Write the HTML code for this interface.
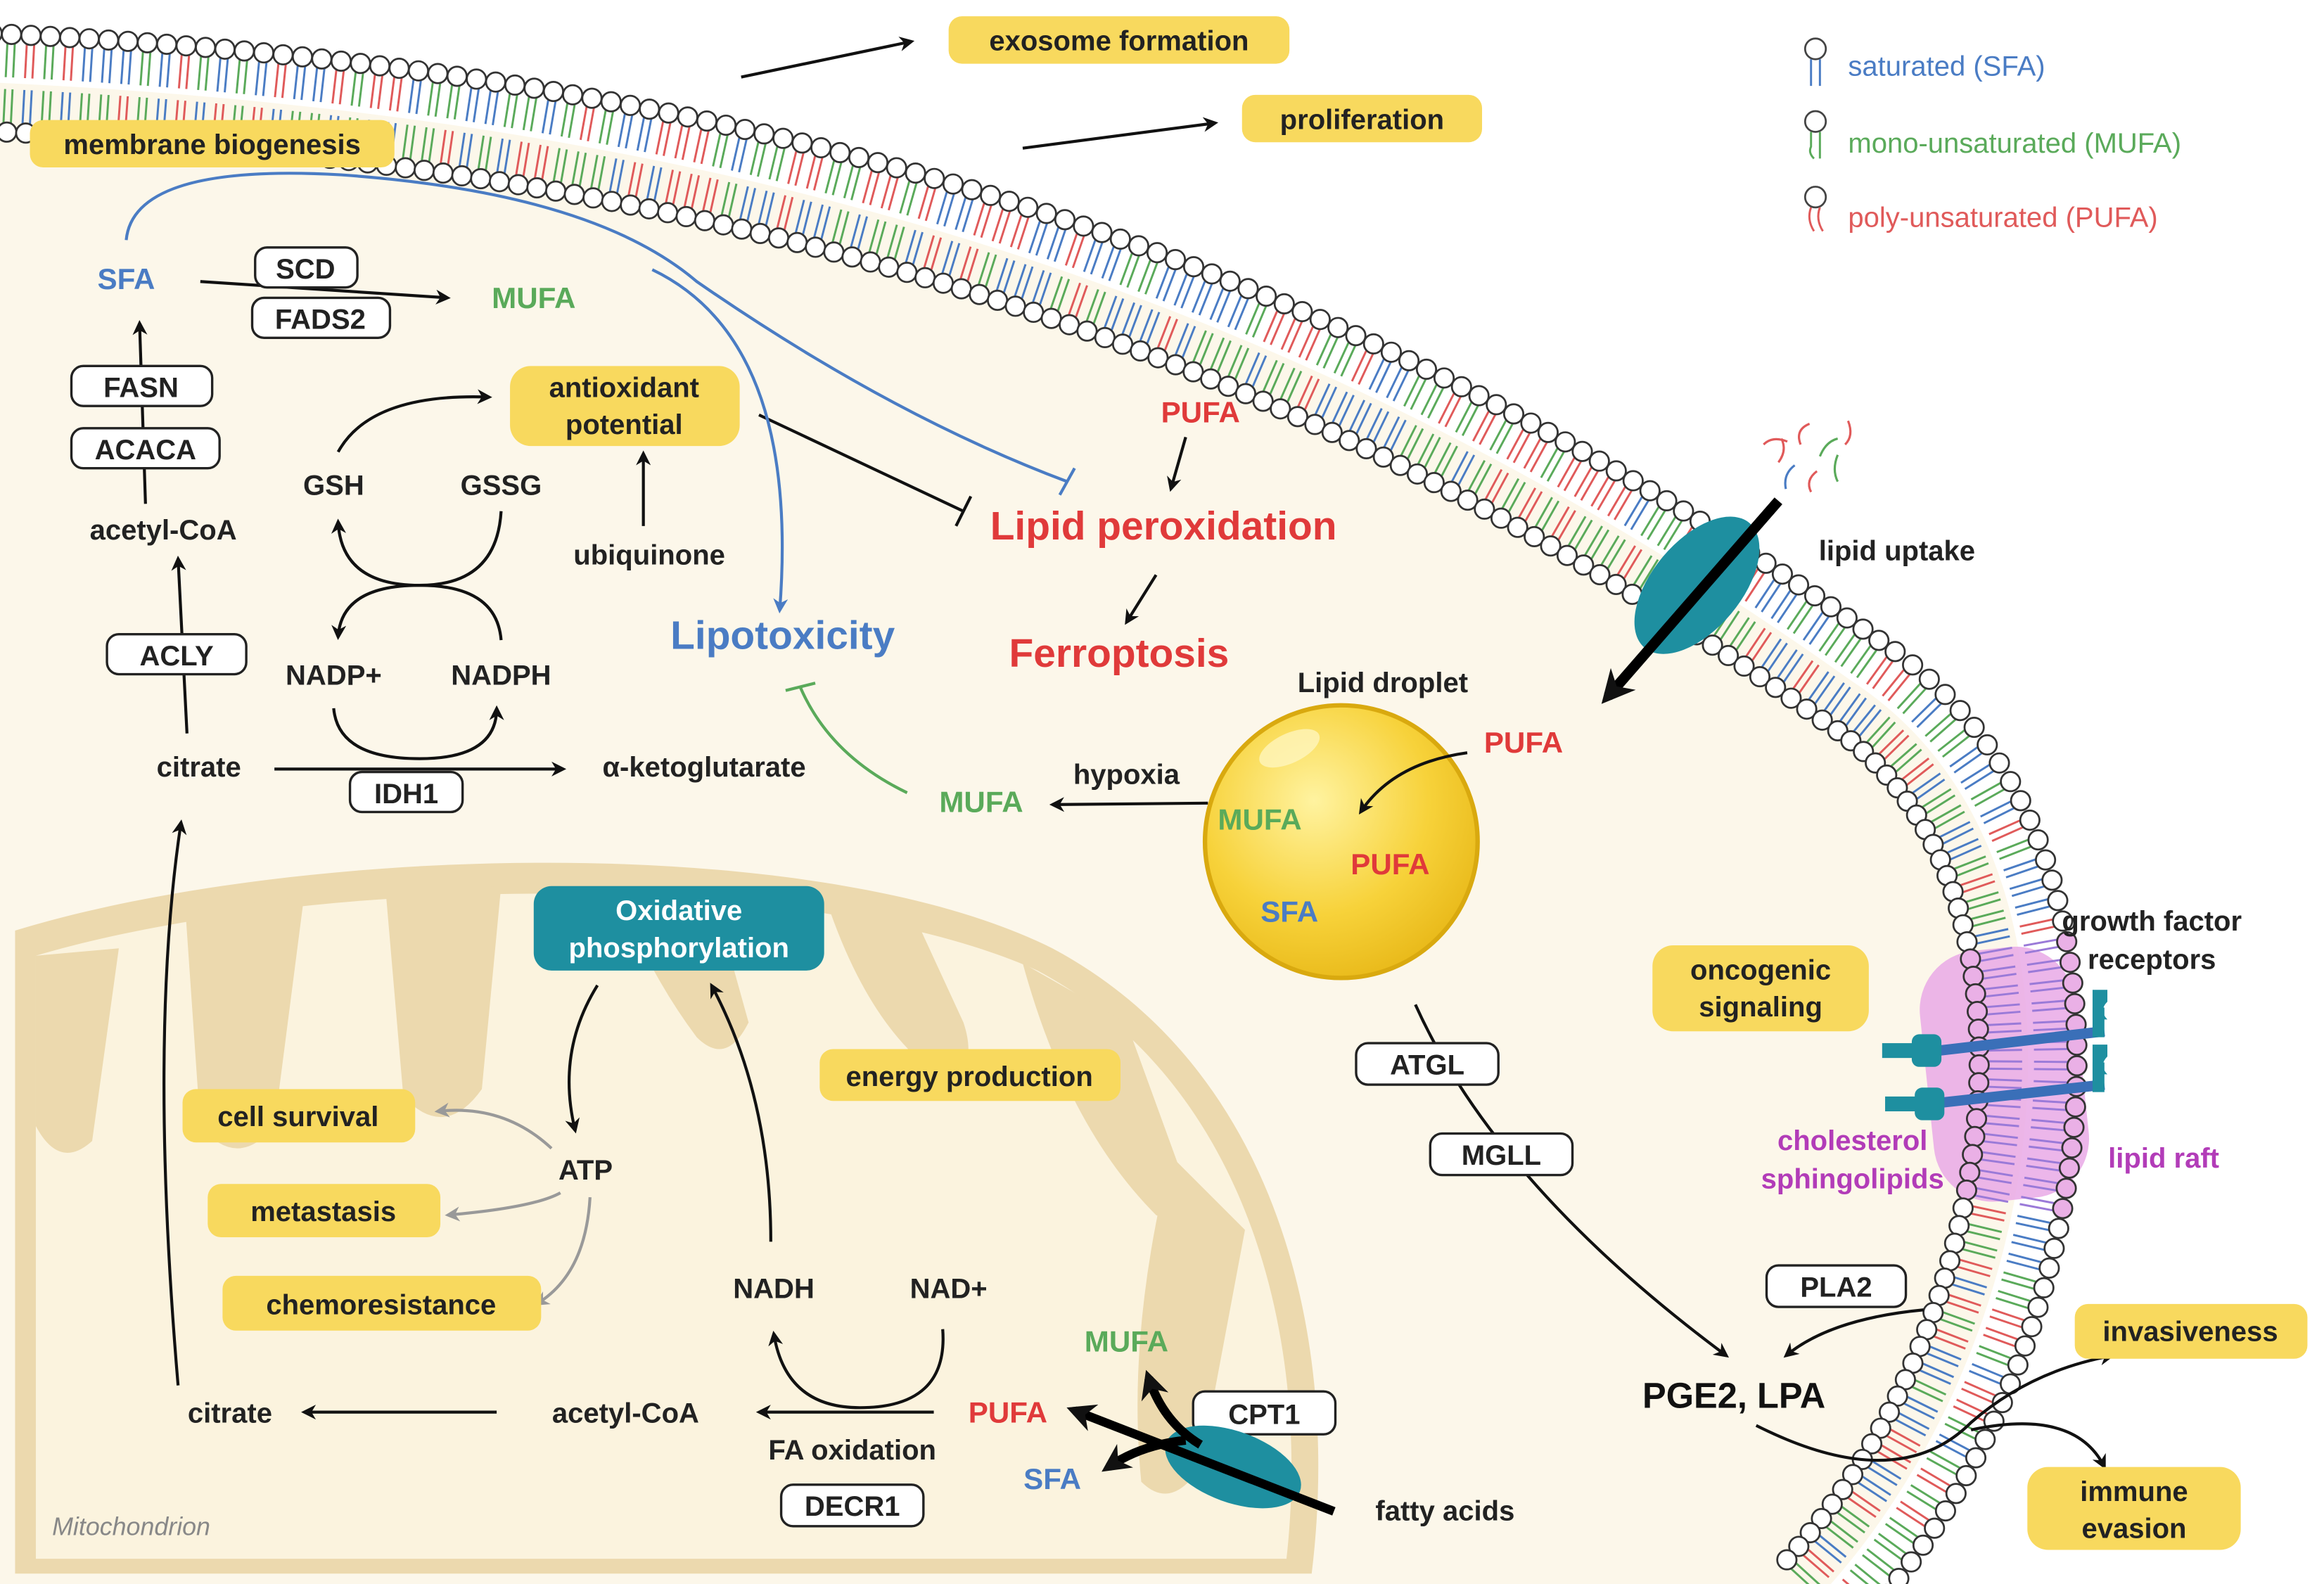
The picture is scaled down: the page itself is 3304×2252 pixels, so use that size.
<!DOCTYPE html>
<html><head><meta charset="utf-8"><style>
html,body{margin:0;padding:0;background:#fff;}
svg{display:block;}
text{font-family:"Liberation Sans",Arial,sans-serif;font-weight:bold;}
</style></head><body>
<svg id="s" width="3304" height="2252" viewBox="0 0 1568 1069" xmlns="http://www.w3.org/2000/svg">
<defs>
<marker id="a" viewBox="0 0 10 10" refX="8" refY="5" markerWidth="5" markerHeight="5" orient="auto-start-reverse"><path d="M0,0 L10,5 L0,10 L3,5 Z" fill="#111"/></marker>
<marker id="ab" viewBox="0 0 10 10" refX="8" refY="5" markerWidth="5" markerHeight="5" orient="auto"><path d="M0,0 L10,5 L0,10 L3,5 Z" fill="#4a7cc4"/></marker>
<marker id="ag" viewBox="0 0 10 10" refX="8" refY="5" markerWidth="5" markerHeight="5" orient="auto"><path d="M0,0 L10,5 L0,10 L3,5 Z" fill="#999"/></marker>
<marker id="at" viewBox="0 0 10 10" refX="7" refY="5" markerWidth="3.2" markerHeight="3.2" orient="auto"><path d="M0,0 L10,5 L0,10 L3,5 Z" fill="#111"/></marker>
<radialGradient id="ld" cx="0.4" cy="0.35" r="0.7"><stop offset="0" stop-color="#fff3a0"/><stop offset="0.6" stop-color="#f7d23a"/><stop offset="1" stop-color="#e8b818"/></radialGradient>
</defs>
<!-- cell interior -->
<path d="M-20,55 C450,75 850,175 1250,460 C1430,577 1390,900 1230,1075 L-20,1075 Z" fill="#fcf7ea"/>
<!-- mitochondrion -->
<path d="M10,628 C200,570 550,560 710,640 C860,720 905,900 885,1062 L10,1062 Z" fill="#ecd9ae"/>
<path d="M24,645 C210,590 545,585 700,655 C840,730 885,900 868,1052 L24,1052 Z" fill="#fbf3de"/>
<g fill="#ecd9ae">
<path d="M24,645 L24,760 Q40,790 62,770 L80,640 Z"/>
<path d="M125,615 L135,760 Q160,790 185,760 L205,605 Z"/>
<path d="M260,600 L272,740 Q300,770 325,735 L338,598 Z"/>
<path d="M420,610 Q440,660 470,700 Q490,720 505,690 L480,600 Z"/>
<path d="M560,615 Q590,700 640,730 Q660,720 650,690 L620,625 Z"/>
<path d="M690,650 Q720,760 780,820 Q800,830 800,800 L760,690 Z"/>
<path d="M790,780 Q760,900 770,1000 Q790,1020 810,990 L840,830 Z"/>
</g>
<text x="35" y="1036" font-size="17" fill="#888" font-style="italic" style="font-weight:normal">Mitochondrion</text>
<!-- membrane -->
<path id="mem" d="M-20,55 C450,75 850,175 1250,460 C1430,577 1390,900 1230,1075" fill="none" stroke="none"/>
<rect x="1300" y="640" width="105" height="170" rx="40" fill="#e9a9e6" opacity="0.85" transform="rotate(-6 1352 725)"/>
<g id="memg"></g>
<!-- receptors -->
<g stroke="#3a6fb8" stroke-width="7">
<line x1="1300" y1="710" x2="1420" y2="696"/><line x1="1302" y1="745" x2="1420" y2="732"/>
</g>
<g fill="#1e8fa0">
<rect x="1270" y="704" width="30" height="10"/><rect x="1290" y="698" width="20" height="22" rx="5"/>
<rect x="1272" y="740" width="30" height="10"/><rect x="1292" y="734" width="20" height="22" rx="5"/>
<path d="M1412,668 h10 v8 q-6,6 0,12 h-10 z" /><path d="M1412,705 h10 v8 q-6,6 0,12 h-10 z"/>
<path d="M1412,680 h8 v20 h-8z"/><path d="M1412,717 h8 v20 h-8z"/>
</g>
<!-- lipid uptake channel -->
<ellipse cx="1145" cy="395" rx="30" ry="55" fill="#1e8fa0" transform="rotate(40 1145 395)"/>
<line x1="1200" y1="338" x2="1085" y2="470" stroke="#000" stroke-width="7" marker-end="url(#at)"/>
<g fill="none" stroke-width="1.5">
<path d="M1200,312 q6,-8 2,-16" stroke="#e05a5a"/><path d="M1215,300 q-4,-10 6,-14" stroke="#e05a5a"/>
<path d="M1228,308 q4,-10 12,-12" stroke="#5aaa5a"/><path d="M1205,330 q-2,-10 6,-16" stroke="#4a7cc4"/>
<path d="M1222,332 q-4,-8 4,-14" stroke="#e05a5a"/><path d="M1240,325 q-4,-8 0,-18" stroke="#5aaa5a"/>
<path d="M1245,300 q6,-6 2,-16" stroke="#e05a5a"/><path d="M1190,300 q6,-6 16,-2" stroke="#e05a5a"/>
</g>
<!-- legend -->
<g stroke="#444" stroke-width="1.3" fill="#fff">
<circle cx="1225" cy="33" r="7"/><circle cx="1225" cy="82" r="7"/><circle cx="1225" cy="133" r="7"/></g>
<g fill="none" stroke-width="1.4">
<path d="M1222,40 v18 M1228,40 v18" stroke="#4a7cc4"/>
<path d="M1222,89 v10 q-2,4 2,8 M1228,89 v18" stroke="#5aaa5a"/>
<path d="M1222,140 q-3,8 2,16 M1228,140 q-3,8 2,16" stroke="#e05a5a"/>
</g>
<text x="1247" y="51" font-size="19" fill="#4a7cc4" style="font-weight:normal">saturated (SFA)</text>
<text x="1247" y="103" font-size="19" fill="#5aaa5a" style="font-weight:normal">mono-unsaturated (MUFA)</text>
<text x="1247" y="153" font-size="19" fill="#e05a5a" style="font-weight:normal">poly-unsaturated (PUFA)</text>
<!-- arrows -->
<g fill="none" stroke="#111" stroke-width="2" marker-end="url(#a)">
<line x1="500" y1="52" x2="615" y2="28"/>
<line x1="690" y1="100" x2="820" y2="83"/>
<line x1="135" y1="190" x2="302" y2="201"/>
<line x1="98" y1="340" x2="94" y2="218"/>
<line x1="126" y1="495" x2="120" y2="377"/>
<line x1="185" y1="519" x2="380" y2="519"/>
<path d="M228,305 Q250,265 330,268"/>
<line x1="434" y1="355" x2="434" y2="306"/>
<path d="M338,345 Q335,395 283,395 Q230,395 228,352"/>
<path d="M338,432 Q335,395 283,395 Q230,395 228,430"/>
<path d="M225,478 Q228,512 283,512 Q335,512 335,478"/>
<line x1="800" y1="295" x2="790" y2="330"/>
<line x1="780" y1="388" x2="760" y2="420"/>
<line x1="815" y1="542" x2="710" y2="543"/>
<path d="M955,678 Q1010,800 1165,915"/>
<path d="M1298,884 Q1235,890 1205,915"/>
<path d="M1185,962 Q1280,1010 1330,960 Q1370,925 1425,915"/>
<path d="M1330,965 Q1400,950 1420,990"/>
<path d="M403,665 Q375,710 388,763"/>
<path d="M520,838 Q520,740 480,665"/>
<path d="M636,897 Q640,950 580,950 Q530,950 522,900"/>
<line x1="335" y1="953" x2="205" y2="953"/>
<line x1="630" y1="953" x2="512" y2="953"/>
<path d="M120,935 Q100,700 122,555"/>
</g>
<g fill="none" stroke="#999" stroke-width="2" marker-end="url(#ag)">
<path d="M372,775 Q340,745 295,750"/>
<path d="M378,805 Q360,815 302,820"/>
<path d="M398,808 Q395,860 362,880"/>
</g>
<g fill="none" stroke="#111" stroke-width="2">
<path d="M512,280 L650,345"/><path d="M645,355 L655,335"/>
</g>
<path d="M612,535 Q560,510 540,464" fill="none" stroke="#5aaa5a" stroke-width="2"/>
<path d="M530,466 L550,461" stroke="#5aaa5a" stroke-width="2"/>
<path d="M85,162 Q90,110 230,118 Q400,130 470,190 Q600,280 720,325" fill="none" stroke="#4a7cc4" stroke-width="2"/>
<path d="M715,334 L725,316" stroke="#4a7cc4" stroke-width="2"/>
<path d="M440,182 Q540,230 526,412" fill="none" stroke="#4a7cc4" stroke-width="2" marker-end="url(#ab)"/>
<!-- yellow boxes -->
<g fill="#f8d95e">
<rect x="640" y="11" width="230" height="32" rx="9"/>
<rect x="838" y="64" width="162" height="32" rx="9"/>
<rect x="20" y="81" width="246" height="32" rx="9"/>
<rect x="344" y="247" width="155" height="54" rx="14"/>
<rect x="1115" y="638" width="146" height="58" rx="14"/>
<rect x="553" y="708" width="203" height="35" rx="9"/>
<rect x="123" y="735" width="157" height="36" rx="9"/>
<rect x="140" y="799" width="157" height="36" rx="9"/>
<rect x="150" y="861" width="215" height="37" rx="9"/>
<rect x="1400" y="880" width="157" height="37" rx="9"/>
<rect x="1368" y="990" width="144" height="56" rx="14"/>
</g>
<rect x="360" y="598" width="196" height="57" rx="12" fill="#1e8fa0"/>
<g font-size="19" fill="#222" text-anchor="middle">
<text x="755" y="34">exosome formation</text>
<text x="919" y="87">proliferation</text>
<text x="143" y="104">membrane biogenesis</text>
<text x="421" y="268">antioxidant</text><text x="421" y="293">potential</text>
<text x="1188" y="661">oncogenic</text><text x="1188" y="686">signaling</text>
<text x="654" y="733">energy production</text>
<text x="201" y="760">cell survival</text>
<text x="218" y="824">metastasis</text>
<text x="257" y="887">chemoresistance</text>
<text x="1478" y="905">invasiveness</text>
<text x="1440" y="1013">immune</text><text x="1440" y="1038">evasion</text>
</g>
<text x="458" y="621" font-size="19" fill="#fff" text-anchor="middle">Oxidative</text>
<text x="458" y="646" font-size="19" fill="#fff" text-anchor="middle">phosphorylation</text>
<!-- white boxes -->
<g fill="#fff" stroke="#222" stroke-width="1.6">
<rect x="172" y="167" width="69" height="27" rx="8"/>
<rect x="170" y="201" width="93" height="27" rx="8"/>
<rect x="48" y="247" width="95" height="27" rx="8"/>
<rect x="48" y="289" width="100" height="27" rx="8"/>
<rect x="72" y="428" width="94" height="27" rx="8"/>
<rect x="236" y="521" width="76" height="27" rx="8"/>
<rect x="915" y="704" width="96" height="28" rx="8"/>
<rect x="965" y="765" width="96" height="28" rx="8"/>
<rect x="1192" y="854" width="94" height="28" rx="8"/>
<rect x="805" y="939" width="96" height="29" rx="8"/>
<rect x="527" y="1002" width="96" height="28" rx="8"/>
</g>
<g font-size="19" fill="#222" text-anchor="middle">
<text x="206" y="188">SCD</text><text x="216" y="222">FADS2</text>
<text x="95" y="268">FASN</text><text x="98" y="310">ACACA</text>
<text x="119" y="449">ACLY</text><text x="274" y="542">IDH1</text>
<text x="963" y="725">ATGL</text><text x="1013" y="786">MGLL</text>
<text x="1239" y="875">PLA2</text><text x="853" y="961">CPT1</text>
<text x="575" y="1023">DECR1</text>
</g>
<!-- metabolite labels -->
<g font-size="19" fill="#222" text-anchor="middle">
<text x="110" y="364">acetyl-CoA</text>
<text x="134" y="524">citrate</text>
<text x="475" y="524">α-ketoglutarate</text>
<text x="225" y="334">GSH</text><text x="338" y="334">GSSG</text>
<text x="225" y="462">NADP+</text><text x="338" y="462">NADPH</text>
<text x="438" y="381">ubiquinone</text>
<text x="760" y="529">hypoxia</text>
<text x="933" y="467">Lipid droplet</text>
<text x="1280" y="378">lipid uptake</text>
<text x="1452" y="628">growth factor</text><text x="1452" y="654">receptors</text>
<text x="395" y="796">ATP</text>
<text x="522" y="876">NADH</text><text x="640" y="876">NAD+</text>
<text x="155" y="960">citrate</text>
<text x="422" y="960">acetyl-CoA</text>
<text x="575" y="985">FA oxidation</text>
<text x="975" y="1026">fatty acids</text>
</g>
<text x="1170" y="950" font-size="24" fill="#111" text-anchor="middle">PGE2, LPA</text>
<g font-size="20" text-anchor="middle">
<text x="85" y="195" fill="#4a7cc4">SFA</text>
<text x="360" y="208" fill="#5aaa5a">MUFA</text>
<text x="810" y="285" fill="#e03a3a">PUFA</text>
<text x="662" y="548" fill="#5aaa5a">MUFA</text>
<text x="1028" y="508" fill="#e03a3a">PUFA</text>
<text x="760" y="912" fill="#5aaa5a">MUFA</text>
<text x="680" y="960" fill="#e03a3a">PUFA</text>
<text x="710" y="1005" fill="#4a7cc4">SFA</text>
</g>
<g font-size="19" text-anchor="middle" fill="#b23cb8">
<text x="1250" y="776">cholesterol</text><text x="1250" y="802">sphingolipids</text>
<text x="1460" y="788">lipid raft</text>
</g>
<text x="528" y="438" font-size="27" fill="#4a7cc4" text-anchor="middle">Lipotoxicity</text>
<text x="785" y="364" font-size="27" fill="#e03a3a" text-anchor="middle">Lipid peroxidation</text>
<text x="755" y="450" font-size="27" fill="#e03a3a" text-anchor="middle">Ferroptosis</text>
<!-- lipid droplet -->
<circle cx="905" cy="568" r="92" fill="url(#ld)" stroke="#d9a90f" stroke-width="3"/>
<ellipse cx="870" cy="505" rx="22" ry="10" fill="#fff8c8" opacity="0.7" transform="rotate(-25 870 505)"/>
<g font-size="20" text-anchor="middle">
<text x="850" y="560" fill="#5aaa5a">MUFA</text>
<text x="938" y="590" fill="#e03a3a">PUFA</text>
<text x="870" y="622" fill="#4a7cc4">SFA</text>
</g>
<path d="M990,508 Q940,515 918,548" fill="none" stroke="#111" stroke-width="2" marker-end="url(#a)"/>
<!-- CPT1 transporter -->
<ellipse cx="832" cy="990" rx="48" ry="24" fill="#1e8fa0" transform="rotate(20 832 990)"/>
<g fill="none" stroke="#000" stroke-width="6" marker-end="url(#at)">
<line x1="900" y1="1020" x2="725" y2="952"/>
<path d="M810,975 Q785,960 775,930"/>
<path d="M800,972 Q770,975 748,990"/>
</g>
</svg>
<script>
(function(){
var ns="http://www.w3.org/2000/svg";
var p=document.getElementById("mem"),g=document.getElementById("memg");
var L=p.getTotalLength();
var cols=["#4a7cc4","#5aaa5a","#e05a5a"];
var seed=7;function rnd(){seed=(seed*9301+49297)%233280;return seed/233280;}
var tails=document.createElementNS(ns,"g"),heads=document.createElementNS(ns,"g");
g.appendChild(tails);g.appendChild(heads);
for(var s=0;s<L;s+=13){
 var a=p.getPointAtLength(s),b=p.getPointAtLength(Math.min(L,s+1));
 var dx=b.x-a.x,dy=b.y-a.y,d=Math.hypot(dx,dy)||1;var nx=-dy/d,ny=dx/d;
 var raft=(a.y>635&&a.y<815&&a.x>1290);
 [1,-1].forEach(function(sg){
  var c=raft?"#9a7ad8":cols[Math.floor(rnd()*3)];
  for(var k=-1;k<=1;k+=2){
   var ox=dx/d*2.5*k,oy=dy/d*2.5*k;
   var l=document.createElementNS(ns,"line");
   l.setAttribute("x1",a.x+nx*sg*27+ox);l.setAttribute("y1",a.y+ny*sg*27+oy);
   l.setAttribute("x2",a.x+nx*sg*4+ox);l.setAttribute("y2",a.y+ny*sg*4+oy);
   l.setAttribute("stroke",c);l.setAttribute("stroke-width","1.4");
   tails.appendChild(l);
  }
  var ci=document.createElementNS(ns,"circle");
  ci.setAttribute("cx",a.x+nx*sg*33);ci.setAttribute("cy",a.y+ny*sg*33);ci.setAttribute("r","6.5");
  ci.setAttribute("fill",raft?"#eab0e6":"#fff");ci.setAttribute("stroke","#333");ci.setAttribute("stroke-width","1.3");
  heads.appendChild(ci);
 });
}
})();
</script>
</body></html>
